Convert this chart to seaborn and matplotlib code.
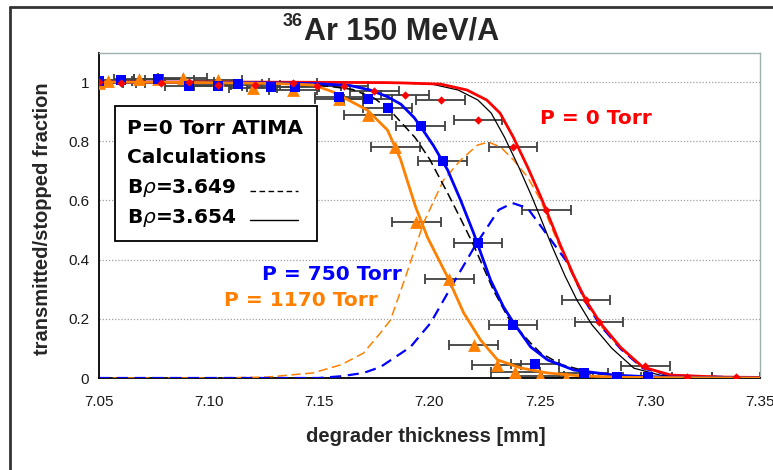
import matplotlib
matplotlib.use("Agg")
import matplotlib.pyplot as plt
import seaborn as sns
from matplotlib.patches import Rectangle
from matplotlib.lines import Line2D

# ---------------- data ----------------
red_x = [7.050, 7.060, 7.078, 7.091, 7.104, 7.121, 7.138, 7.149, 7.161, 7.175, 7.189, 7.205,
         7.222, 7.238, 7.253, 7.271, 7.277, 7.298, 7.317, 7.339]
red_y = [1.000, 0.997, 0.997, 1.000, 0.990, 0.990, 0.997, 0.986, 0.986, 0.970, 0.956, 0.939,
         0.872, 0.780, 0.568, 0.264, 0.189, 0.040, 0.005, 0.003]

blue_x = [7.050, 7.060, 7.077, 7.091, 7.104, 7.113, 7.128, 7.139, 7.159, 7.172, 7.181, 7.196,
          7.206, 7.222, 7.238, 7.248, 7.270, 7.285, 7.299]
blue_y = [1.003, 1.007, 1.010, 0.986, 0.986, 0.993, 0.983, 0.983, 0.949, 0.943, 0.912, 0.851,
          0.733, 0.456, 0.179, 0.047, 0.017, 0.003, 0.003]

orange_x = [7.050, 7.054, 7.068, 7.077, 7.088, 7.104, 7.120, 7.138, 7.159, 7.172, 7.1845, 7.194,
            7.209, 7.220, 7.2305, 7.239, 7.250, 7.262]
orange_y = [0.997, 1.003, 1.010, 1.010, 1.013, 1.007, 0.980, 0.973, 0.943, 0.889, 0.780, 0.527,
            0.334, 0.111, 0.044, 0.020, 0.007, 0.000]

x_err = 0.011

# fitted transmission curves
red_fit_x = [7.05, 7.10, 7.15, 7.18, 7.187, 7.205, 7.217, 7.226, 7.232, 7.238, 7.2445, 7.2505,
             7.255, 7.2595, 7.2655, 7.271, 7.2777, 7.2868, 7.2968, 7.3095, 7.332, 7.35]
red_fit_y = [1.0, 1.0, 0.999, 0.998, 0.997, 0.993, 0.973, 0.939, 0.895, 0.814, 0.713, 0.612,
             0.530, 0.447, 0.345, 0.262, 0.184, 0.103, 0.037, 0.010, 0.003, 0.002]

blue_fit_x = [7.05, 7.12, 7.15, 7.164, 7.173, 7.181, 7.187, 7.193, 7.1959, 7.2018, 7.2082, 7.2141,
              7.22, 7.2277, 7.2336, 7.2382, 7.2459, 7.2536, 7.2655, 7.2836, 7.30, 7.35]
blue_fit_y = [1.0, 0.998, 0.994, 0.988, 0.973, 0.950, 0.925, 0.880, 0.850, 0.785, 0.703, 0.601,
              0.490, 0.331, 0.240, 0.186, 0.105, 0.061, 0.027, 0.010, 0.004, 0.0]

orange_fit_x = [7.05, 7.10, 7.13, 7.1473, 7.1564, 7.1718, 7.1809, 7.1868, 7.1936, 7.1991, 7.2082,
                7.2155, 7.2232, 7.2309, 7.2414, 7.2536, 7.2686, 7.29, 7.35]
orange_fit_y = [1.0, 0.998, 0.995, 0.99, 0.966, 0.905, 0.838, 0.74, 0.58, 0.475, 0.341, 0.22,
                0.128, 0.061, 0.034, 0.017, 0.007, 0.002, 0.0]

# stopped fractions (dashed)
blue_stop_x = [7.05, 7.10, 7.1495, 7.160, 7.170, 7.1777, 7.1914, 7.2005, 7.210, 7.2209, 7.2314,
               7.2377, 7.2445, 7.2518, 7.2627, 7.271, 7.2777, 7.2868, 7.2968, 7.3095, 7.35]
blue_stop_y = [0.0, 0.0, 0.0, 0.006, 0.017, 0.037, 0.105, 0.186, 0.31, 0.449, 0.568, 0.591, 0.574,
               0.50, 0.389, 0.255, 0.176, 0.098, 0.033, 0.008, 0.001]

orange_stop_x = [7.05, 7.10, 7.126, 7.147, 7.160, 7.170, 7.1777, 7.1823, 7.1891, 7.1973, 7.2064,
                 7.2141, 7.2218, 7.2268, 7.2323, 7.2382, 7.2445, 7.2505, 7.255, 7.2595, 7.2655,
                 7.271, 7.2777, 7.2868, 7.2968, 7.3095, 7.35]
orange_stop_y = [0.0, 0.0, 0.003, 0.017, 0.045, 0.084, 0.152, 0.196, 0.341, 0.524, 0.669, 0.736,
                 0.787, 0.797, 0.780, 0.736, 0.679, 0.60, 0.515, 0.437, 0.338, 0.258, 0.176, 0.100,
                 0.034, 0.009, 0.002]

# ATIMA calculations, P = 0 Torr
calc_3649_x = [7.05, 7.12, 7.15, 7.165, 7.175, 7.182, 7.1882, 7.1936, 7.200, 7.2082, 7.214, 7.220,
               7.229, 7.236, 7.2459, 7.2505, 7.260, 7.275, 7.290, 7.310, 7.35]
calc_3649_y = [1.0, 0.998, 0.99, 0.975, 0.945, 0.905, 0.855, 0.811, 0.74, 0.625, 0.54, 0.449,
               0.297, 0.2, 0.118, 0.084, 0.045, 0.015, 0.005, 0.001, 0.0]

calc_3654_x = [7.05, 7.15, 7.183, 7.201, 7.213, 7.222, 7.228, 7.234, 7.2405, 7.2465, 7.251, 7.2555,
               7.2615, 7.267, 7.2737, 7.2828, 7.2928, 7.3055, 7.328, 7.35]
calc_3654_y = [1.0, 0.999, 0.997, 0.993, 0.973, 0.939, 0.895, 0.814, 0.713, 0.612, 0.530, 0.447,
               0.345, 0.262, 0.180, 0.100, 0.033, 0.008, 0.002, 0.001]

x_ticks = [7.05, 7.10, 7.15, 7.20, 7.25, 7.30, 7.35]
x_tick_labels = ["7.05", "7.10", "7.15", "7.20", "7.25", "7.30", "7.35"]
y_ticks = [0, 0.2, 0.4, 0.6, 0.8, 1.0]
y_tick_labels = ["0", "0.2", "0.4", "0.6", "0.8", "1"]

# ---------------- styling ----------------
sns.set_style("white")
plt.rcParams['font.family'] = ['Liberation Sans', 'DejaVu Sans']

RED = '#ff0000'
BLUE = '#0000ff'
ORANGE = '#ff8000'
EBAR = '#404040'

W, H = 773, 470
fig = plt.figure(figsize=(W / 100, H / 100), dpi=100)


def fx(px):
    return px / W


def fy(py):
    return 1 - py / H


ax = fig.add_axes([fx(99), fy(378), (760 - 99) / W, (378 - 53) / H])

# error bars
for xs, ys in [(red_x, red_y), (blue_x, blue_y), (orange_x, orange_y)]:
    ax.errorbar(xs, ys, xerr=x_err, fmt='none', ecolor=EBAR, elinewidth=1.3,
                capsize=3.6, capthick=1.3, zorder=2)


# curves
def curve(xs, ys, color, lw, ls='-', z=3):
    sns.lineplot(x=xs, y=ys, ax=ax, color=color, linewidth=lw, linestyle=ls,
                 estimator=None, sort=False, zorder=z)


curve(orange_stop_x, orange_stop_y, ORANGE, 1.1, (0, (6, 3)), 3)
curve(blue_stop_x, blue_stop_y, BLUE, 1.6, (0, (5, 3)), 3)
curve(calc_3649_x, calc_3649_y, 'black', 1.1, (0, (6, 3)), 3)
curve(calc_3654_x, calc_3654_y, 'black', 0.9, '-', 3)
curve(red_fit_x, red_fit_y, RED, 2.0, '-', 4)
curve(blue_fit_x, blue_fit_y, BLUE, 2.0, '-', 4)
curve(orange_fit_x, orange_fit_y, ORANGE, 2.0, '-', 4)

# markers
sns.scatterplot(x=orange_x, y=orange_y, ax=ax, marker='^', s=85, color=ORANGE,
                linewidth=0, zorder=5)
sns.scatterplot(x=blue_x, y=blue_y, ax=ax, marker='s', s=42, color=BLUE,
                linewidth=0, zorder=5)
sns.scatterplot(x=red_x, y=red_y, ax=ax, marker='D', s=18, color=RED,
                linewidth=0, zorder=5)

ax.set_xlim(7.05, 7.35)
ax.set_ylim(0, 1.098)
ax.set_xticks(x_ticks)
ax.set_xticklabels(x_tick_labels)
ax.set_yticks(y_ticks)
ax.set_yticklabels(y_tick_labels)
ax.set_xlabel("")
ax.set_ylabel("")
ax.tick_params(axis='both', direction='out', length=4, width=1, color='black',
               labelsize=11, labelcolor='#1a1a1a', pad=3)
ax.tick_params(axis='x', pad=8)
for v in y_ticks[1:]:
    ax.axhline(v, color='#a0a0a0', lw=0.9, ls=(0, (1, 1.5)), zorder=1)
for s in ['left', 'bottom']:
    ax.spines[s].set_color('black')
    ax.spines[s].set_linewidth(1.3)
for s in ['top', 'right']:
    ax.spines[s].set_color('#9fb0b0')
    ax.spines[s].set_linewidth(1.0)
ax.set_facecolor('white')

# annotations
ann = dict(fontweight='bold', family=['DejaVu Sans'], fontsize=14.5, va='center', ha='left')
fig.text(fx(540), fy(118), "P = 0 Torr", color=RED, **ann)
fig.text(fx(262), fy(275), "P = 750 Torr", color=BLUE, **ann)
fig.text(fx(224), fy(300), "P = 1170 Torr", color=ORANGE, **ann)

# calculation legend box
fig.add_artist(Rectangle((fx(115), fy(241)), (317 - 115) / W, (241 - 106) / H,
                         transform=fig.transFigure, facecolor='white',
                         edgecolor='black', linewidth=1.3, zorder=10))
box = dict(fontweight='bold', family=['DejaVu Sans'], fontsize=14.5, va='center',
           ha='left', color='black', zorder=11)
fig.text(fx(127), fy(128), "P=0 Torr ATIMA", **box)
fig.text(fx(127), fy(158), "Calculations", **box)
fig.text(fx(127), fy(188), r"B$\rho$=3.649", **box)
fig.text(fx(127), fy(218), r"B$\rho$=3.654", **box)
fig.add_artist(Line2D([fx(250), fx(298)], [fy(191), fy(191)], transform=fig.transFigure,
                      color='black', lw=1.0, ls=(0, (4, 2.5)), zorder=11))
fig.add_artist(Line2D([fx(250), fx(298)], [fy(220), fy(220)], transform=fig.transFigure,
                      color='black', lw=1.0, zorder=11))

# title and axis labels
fig.text(fx(303), fy(21), "36", fontsize=13, fontweight='bold', ha='right', va='center')
fig.text(fx(304), fy(31), "Ar 150 MeV/A", fontsize=22, fontweight='bold', ha='left',
         va='center')
fig.text(fx(43), fy(219), "transmitted/stopped fraction", fontsize=14.5, fontweight='bold',
         rotation=90, ha='center', va='center')
fig.text(fx(426), fy(437), "degrader thickness [mm]", fontsize=14.5, fontweight='bold',
         ha='center', va='center')

# outer chart border
fig.add_artist(Line2D([fx(10), fx(10)], [fy(7), 0], transform=fig.transFigure,
                      color='#333333', lw=2))
fig.add_artist(Line2D([fx(10), 1], [fy(7), fy(7)], transform=fig.transFigure,
                      color='#333333', lw=2))

fig.savefig("out.png", dpi=100)
